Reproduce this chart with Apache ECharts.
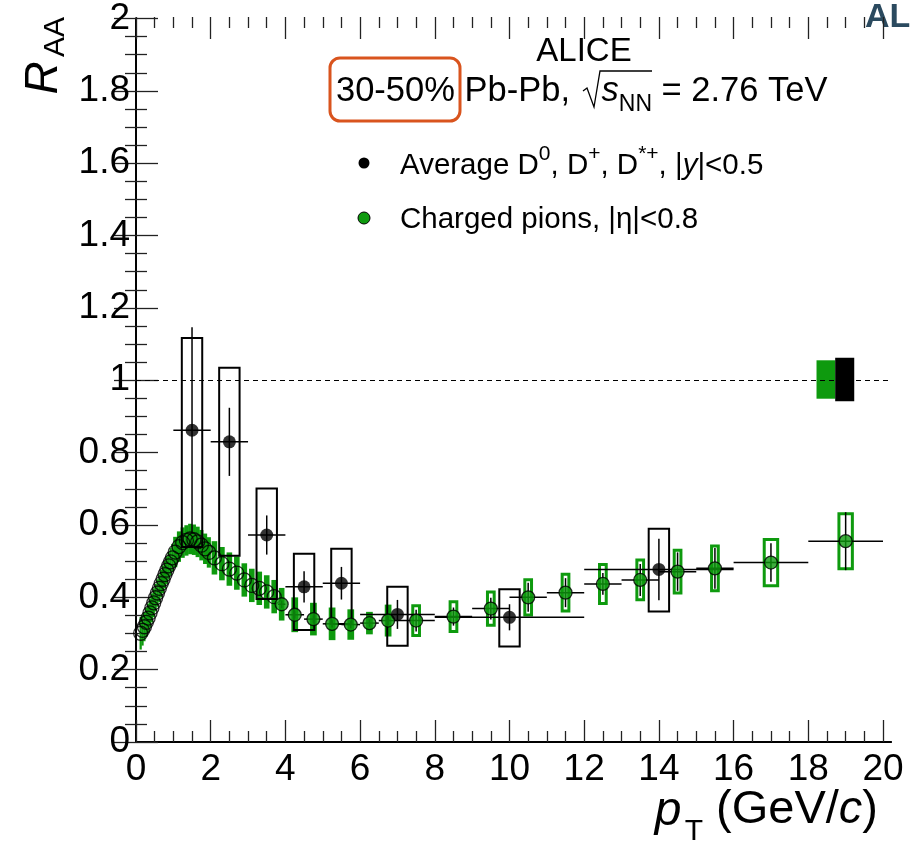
<!DOCTYPE html>
<html>
<head>
<meta charset="utf-8">
<script src="https://cdn.jsdelivr.net/npm/echarts@6/dist/echarts.min.js"></script>
<style>
  html, body { margin: 0; padding: 0; background: #fff; }
  #main { width: 914px; height: 844px; }
</style>
</head>
<body>
<div id="main"></div>
<script>
// average D mesons, 30-50%
var dPt = [1.5, 2.5, 3.5, 4.5, 5.5, 7, 10, 14]
var dRaa = [0.86, 0.828, 0.571, 0.428, 0.438, 0.352, 0.344, 0.476]
var dStat = [0.284, 0.094, 0.054, 0.043, 0.045, 0.04, 0.036, 0.085]
var dSysLow = [0.535, 0.511, 0.392, 0.306, 0.323, 0.263, 0.261, 0.357]
var dSysHigh = [1.117, 1.035, 0.702, 0.522, 0.536, 0.431, 0.424, 0.591]
var dBinLow = [1, 2, 3, 4, 5, 6, 8, 12]
var dBinHigh = [2, 3, 4, 5, 6, 8, 12, 16]

// charged pions
var piPt = [0.125, 0.175, 0.225, 0.275, 0.325, 0.375, 0.425, 0.475, 0.525, 0.575,
  0.625, 0.675, 0.725, 0.775, 0.825, 0.875, 0.925, 0.975, 1.05, 1.15,
  1.25, 1.35, 1.45, 1.55, 1.65, 1.75, 1.85, 1.95, 2.1, 2.3,
  2.5, 2.7, 2.9, 3.1, 3.3, 3.5, 3.7, 3.9, 4.25, 4.75,
  5.25, 5.75, 6.25, 6.75, 7.5, 8.5, 9.5, 10.5, 11.5, 12.5,
  13.5, 14.5, 15.5, 17, 19]
var piRaa = [0.300, 0.308, 0.318, 0.330, 0.342, 0.356, 0.370, 0.384, 0.398, 0.411,
  0.424, 0.437, 0.449, 0.462, 0.474, 0.486, 0.497, 0.508, 0.524, 0.539,
  0.550, 0.556, 0.560, 0.558, 0.552, 0.543, 0.533, 0.523, 0.508, 0.492,
  0.477, 0.466, 0.447, 0.432, 0.424, 0.414, 0.401, 0.380, 0.351, 0.339,
  0.326, 0.324, 0.328, 0.335, 0.335, 0.346, 0.368, 0.399, 0.412, 0.436,
  0.447, 0.470, 0.479, 0.495, 0.554]
var piStat = [0, 0, 0, 0, 0, 0, 0, 0, 0, 0,
  0, 0, 0, 0, 0, 0, 0, 0, 0, 0,
  0, 0, 0, 0, 0, 0, 0, 0, 0, 0,
  0, 0, 0, 0, 0, 0, 0, 0.01, 0.01, 0.01,
  0.01, 0.01, 0.01, 0.012, 0.03, 0.025, 0.03, 0.04, 0.04, 0.03,
  0.044, 0.053, 0.056, 0.053, 0.08]
var piSys = [0.045, 0.042, 0.04, 0.04, 0.04, 0.04, 0.04, 0.04, 0.038, 0.038,
  0.038, 0.038, 0.038, 0.038, 0.038, 0.038, 0.038, 0.038, 0.042, 0.042,
  0.042, 0.042, 0.042, 0.042, 0.042, 0.042, 0.042, 0.042, 0.046, 0.046,
  0.046, 0.046, 0.046, 0.046, 0.046, 0.046, 0.046, 0.045, 0.048, 0.045,
  0.045, 0.042, 0.031, 0.044, 0.045, 0.045, 0.05, 0.053, 0.055, 0.058,
  0.059, 0.063, 0.066, 0.068, 0.08]
var piBinHalf = [0, 0, 0, 0, 0, 0, 0, 0, 0, 0,
  0, 0, 0, 0, 0, 0, 0, 0, 0, 0,
  0, 0, 0, 0, 0, 0, 0, 0, 0, 0,
  0, 0, 0, 0, 0, 0, 0, 0.1, 0.25, 0.25,
  0.25, 0.25, 0.25, 0.25, 0.5, 0.5, 0.5, 0.5, 0.5, 0.5,
  0.5, 0.5, 0.5, 1, 1]

// normalisation uncertainties around unity
var piNorm = 0.053
var dNorm = 0.06

var xTicks = [0, 2, 4, 6, 8, 10, 12, 14, 16, 18, 20]

;(function () {
  var chart = echarts.init(document.getElementById('main'))
  var FONT = '"Liberation Sans", Arial, Helvetica, sans-serif'
  var GREEN = '#0e9a0e'

  var dBox = [], dBar = [], dPts = []
  for (var i = 0; i < dPt.length; i++) {
    dBox.push([dPt[i], dSysLow[i], dSysHigh[i], 0.3, 0])
    dBar.push([dPt[i], dRaa[i], dStat[i], dBinLow[i], dBinHigh[i]])
    dPts.push([dPt[i], dRaa[i]])
  }

  var piBox = [], piBar = [], piOpen = [], piFull = []
  for (var j = 0; j < piPt.length; j++) {
    var pt = piPt[j]
    var hw = pt < 1 ? 0.03 : pt < 2 ? 0.055 : pt < 4 ? 0.075 : pt < 7 ? 0.09 : pt < 16 ? 0.13 : 0.22
    piBox.push([pt, piRaa[j] - piSys[j], piRaa[j] + piSys[j], hw, pt < 7 ? 1 : 0])
    piBar.push([pt, piRaa[j], piStat[j], pt - piBinHalf[j], pt + piBinHalf[j]])
    if (pt < 3.8) piOpen.push([pt, piRaa[j]])
    else piFull.push([pt, piRaa[j]])
  }

  var normBox = [[18.47, 1 - piNorm, 1 + piNorm, 0.25, 1], [18.975, 1 - dNorm, 1 + dNorm, 0.255, 1]]

  function boxRender(color, lw) {
    return function (params, api) {
      var x = api.value(0), hw = api.value(3)
      var p0 = api.coord([x - hw, api.value(2)])
      var p1 = api.coord([x + hw, api.value(1)])
      var filled = api.value(4) === 1
      var rect = {x: p0[0], y: p0[1], width: p1[0] - p0[0], height: p1[1] - p0[1]}
      if (filled) {
        return {type: 'rect', shape: rect, style: {fill: color, stroke: null}}
      }
      return {
        type: 'rect',
        shape: {x: rect.x + lw / 2, y: rect.y + lw / 2, width: rect.width - lw, height: rect.height - lw},
        style: {fill: null, stroke: color, lineWidth: lw}
      }
    }
  }

  function barRender(lw) {
    return function (params, api) {
      var x = api.value(0), y = api.value(1), e = api.value(2)
      var kids = []
      if (e > 0) {
        var a = api.coord([x, y - e]), b = api.coord([x, y + e])
        kids.push({type: 'line', shape: {x1: a[0], y1: a[1], x2: b[0], y2: b[1]}, style: {stroke: '#000', lineWidth: lw}})
      }
      if (api.value(4) > api.value(3)) {
        var c = api.coord([api.value(3), y]), d = api.coord([api.value(4), y])
        kids.push({type: 'line', shape: {x1: c[0], y1: c[1], x2: d[0], y2: d[1]}, style: {stroke: '#000', lineWidth: lw}})
      }
      return {type: 'group', children: kids}
    }
  }

  var tickLine = {color: '#222', width: 1.3}

  var option = {
    animation: false,
    backgroundColor: '#fff',
    grid: [
      {left: 136, right: 23, top: 17, bottom: 102},
      {left: 136, right: 31, top: 17, bottom: 102}
    ],
    xAxis: [
      {gridIndex: 0, type: 'value', min: 0, max: 1, position: 'bottom',
        axisLine: {show: true, lineStyle: {color: '#000', width: 1.8}},
        axisTick: {show: false}, axisLabel: {show: false}, splitLine: {show: false}},
      {gridIndex: 0, type: 'value', min: 0, max: 1, position: 'top',
        axisLine: {show: true, lineStyle: {color: '#000', width: 1.8}},
        axisTick: {show: false}, axisLabel: {show: false}, splitLine: {show: false}},
      {gridIndex: 1, type: 'value', min: xTicks[0], max: xTicks[xTicks.length - 1], interval: 2, position: 'bottom',
        axisLine: {show: false},
        axisTick: {show: true, inside: true, length: 22, lineStyle: tickLine},
        minorTick: {show: true, splitNumber: 4, length: 11, lineStyle: tickLine},
        axisLabel: {show: true, margin: 9, color: '#000', fontSize: 37, fontFamily: FONT},
        splitLine: {show: false}},
      {gridIndex: 1, type: 'value', min: xTicks[0], max: xTicks[xTicks.length - 1], interval: 2, position: 'top',
        axisLine: {show: false},
        axisTick: {show: true, inside: true, length: 22, lineStyle: tickLine},
        minorTick: {show: true, splitNumber: 4, length: 11, lineStyle: tickLine},
        axisLabel: {show: false}, splitLine: {show: false}}
    ],
    yAxis: [
      {gridIndex: 0, type: 'value', min: 0, max: 2, interval: 0.2, position: 'left',
        axisLine: {show: true, lineStyle: {color: '#000', width: 1.8}},
        axisTick: {show: true, inside: true, length: 22, lineStyle: tickLine},
        minorTick: {show: true, splitNumber: 4, length: 11, lineStyle: tickLine},
        axisLabel: {show: true, margin: 6, color: '#000', fontSize: 37, fontFamily: FONT},
        splitLine: {show: false}},
      {gridIndex: 0, type: 'value', min: 0, max: 2, interval: 0.2, position: 'right',
        axisLine: {show: true, lineStyle: {color: '#000', width: 1.8}},
        axisTick: {show: true, inside: true, length: 22, lineStyle: tickLine},
        minorTick: {show: true, splitNumber: 4, length: 11, lineStyle: tickLine},
        axisLabel: {show: false}, splitLine: {show: false}},
      {gridIndex: 1, type: 'value', min: 0, max: 2, show: false}
    ],
    series: [
      {
        type: 'line', xAxisIndex: 0, yAxisIndex: 0, data: [], symbol: 'none', silent: true,
        markLine: {
          silent: true, symbol: 'none', label: {show: false},
          lineStyle: {color: '#000', type: [5, 4], width: 1},
          data: [{yAxis: 1}]
        }
      },
      {type: 'custom', xAxisIndex: 2, yAxisIndex: 2, data: normBox, z: 3,
        renderItem: function (params, api) {
          var color = params.dataIndex === 0 ? GREEN : '#000'
          return boxRender(color, 2)(params, api)
        }},
      {type: 'custom', xAxisIndex: 2, yAxisIndex: 2, data: piBox, renderItem: boxRender(GREEN, 3), z: 3},
      {type: 'custom', xAxisIndex: 2, yAxisIndex: 2, data: dBox, renderItem: boxRender('#000', 2), z: 4},
      {type: 'custom', xAxisIndex: 2, yAxisIndex: 2, data: piBar, renderItem: barRender(1.5), z: 5},
      {type: 'custom', xAxisIndex: 2, yAxisIndex: 2, data: dBar, renderItem: barRender(1.5), z: 5},
      {type: 'scatter', xAxisIndex: 2, yAxisIndex: 2, data: piOpen, symbol: 'circle', symbolSize: 14, z: 6,
        itemStyle: {color: 'rgba(0,0,0,0)', borderColor: '#000', borderWidth: 1.3}},
      {type: 'scatter', xAxisIndex: 2, yAxisIndex: 2, data: piFull, symbol: 'circle', symbolSize: 13, z: 6,
        itemStyle: {color: GREEN, borderColor: '#000', borderWidth: 1.3}},
      {type: 'scatter', xAxisIndex: 2, yAxisIndex: 2, data: dPts, symbol: 'circle', symbolSize: 13, z: 7,
        itemStyle: {color: '#000'}}
    ],
    graphic: [
      // y title
      {type: 'text', x: 44, y: 78, rotation: Math.PI / 2,
        style: {text: 'R', fontSize: 46, fontStyle: 'italic', fontFamily: FONT, fill: '#000', align: 'center', verticalAlign: 'middle'}},
      {type: 'text', x: 56, y: 37, rotation: Math.PI / 2,
        style: {text: 'AA', fontSize: 30, fontFamily: FONT, fill: '#000', align: 'center', verticalAlign: 'middle'}},
      // x title
      {type: 'text', x: 668, y: 812,
        style: {text: 'p', fontSize: 48, fontStyle: 'italic', fontFamily: FONT, fill: '#000', align: 'center', verticalAlign: 'middle'}},
      {type: 'text', x: 694, y: 832,
        style: {text: 'T', fontSize: 30, fontFamily: FONT, fill: '#000', align: 'center', verticalAlign: 'middle'}},
      {type: 'text', x: 878, y: 810,
        style: {text: '{n|(GeV/}{i|c}{n|)}', align: 'right', verticalAlign: 'middle',
          rich: {
            n: {fontSize: 47, fontFamily: FONT, fill: '#000'},
            i: {fontSize: 47, fontFamily: FONT, fontStyle: 'italic', fill: '#000'}
          }}},
      // header
      {type: 'text', x: 584, y: 52,
        style: {text: 'ALICE', fontSize: 33, fontFamily: FONT, fill: '#000', align: 'center', verticalAlign: 'middle'}},
      {type: 'text', x: 336, y: 91,
        style: {text: '{n|30-50% Pb-Pb, }{rad|}{i|s}{sub|NN}{n| = 2.76 TeV}', align: 'left', verticalAlign: 'middle',
          rich: {
            n: {fontSize: 34.5, fontFamily: FONT, fill: '#000', lineHeight: 50},
            rad: {width: 22, lineHeight: 50},
            i: {fontSize: 34.5, fontFamily: FONT, fontStyle: 'italic', fill: '#000', lineHeight: 50},
            sub: {fontSize: 23, fontFamily: FONT, fill: '#000', verticalAlign: 'bottom', lineHeight: 23}
          }}},
      {type: 'polyline', shape: {points: [[583, 91], [587, 88], [594, 107], [600, 71], [652, 71]]},
        style: {stroke: '#000', lineWidth: 1.3, fill: null}},
      {type: 'rect', shape: {x: 330, y: 58, width: 130, height: 63, r: 10},
        style: {fill: null, stroke: '#d9541e', lineWidth: 3}},
      // legend
      {type: 'circle', shape: {cx: 364, cy: 163, r: 5.5}, style: {fill: '#000'}},
      {type: 'text', x: 400, y: 166,
        style: {text: '{n|Average D}{sup|0}{n|, D}{sup|+}{n|, D}{sup|*+}{n|, |}{i|y}{n||<0.5}', align: 'left', verticalAlign: 'middle',
          rich: {
            n: {fontSize: 29.5, fontFamily: FONT, fill: '#000', lineHeight: 44},
            i: {fontSize: 29.5, fontFamily: FONT, fontStyle: 'italic', fill: '#000', lineHeight: 44},
            sup: {fontSize: 21, fontFamily: FONT, fill: '#000', verticalAlign: 'top', lineHeight: 21}
          }}},
      {type: 'circle', shape: {cx: 364, cy: 218, r: 6}, style: {fill: GREEN, stroke: '#000', lineWidth: 1}},
      {type: 'text', x: 400, y: 220,
        style: {text: 'Charged pions, |\u03b7|<0.8', fontSize: 29.5, fontFamily: FONT, fill: '#000', align: 'left', verticalAlign: 'middle'}},
      // cut-off logo
      {type: 'text', x: 865, y: 18,
        style: {text: 'AL', fontSize: 34, fontWeight: 'bold', fontFamily: FONT, fill: '#2b4a5f', align: 'left', verticalAlign: 'middle'}}
    ]
  }
  chart.setOption(option)
})()
</script>
</body>
</html>
